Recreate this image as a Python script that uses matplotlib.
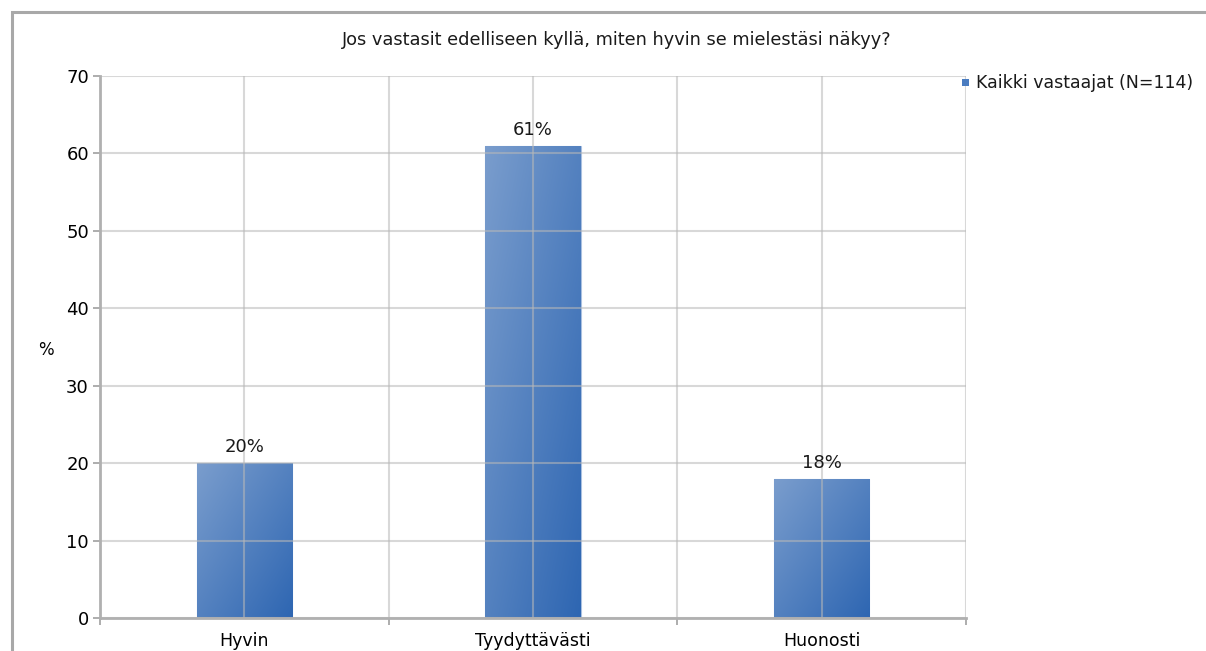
import numpy as np
import matplotlib
matplotlib.use('Agg')
import matplotlib.pyplot as plt
from matplotlib.patches import Rectangle
from matplotlib.colors import LinearSegmentedColormap

categories = ['Hyvin', 'Tyydyttävästi', 'Huonosti']
values = [20, 61, 18]
labels = ['20%', '61%', '18%']
series_name = 'Kaikki vastaajat (N=114)'
title = 'Jos vastasit edelliseen kyllä, miten hyvin se mielestäsi näkyy?'

plt.rcParams['font.family'] = ['DejaVu Sans']

fig = plt.figure(figsize=(12.06, 6.51), dpi=100)
ax = fig.add_axes([100 / 1206, 33 / 651, 866 / 1206, 542 / 651])

# outer chart frame (top and left edges visible)
fig.patches.append(Rectangle((12 / 1206, -0.1), 1.2, 1 - 12 / 651 + 0.1,
                             transform=fig.transFigure, fill=False,
                             edgecolor='#a8a8a8', linewidth=2.2, zorder=0))

x = np.arange(len(categories))
width = 0.33
bars = ax.bar(x, values, width, color='#4f7fc0', zorder=2)

# diagonal gradient fill for each bar: light top-left, dark bottom-right
cmap = LinearSegmentedColormap.from_list('barfill', ['#7a9dcd', '#2e66b2'])
gy, gx = np.mgrid[0:1:100j, 0:1:100j]
grad = (gx + gy) / 2
for b in bars:
    bx, by = b.get_x(), b.get_y()
    bw, bh = b.get_width(), b.get_height()
    im = ax.imshow(grad, cmap=cmap, extent=[bx, bx + bw, by, by + bh],
                   origin='upper', aspect='auto', zorder=2)
    im.set_clip_path(b)
    b.set_facecolor('none')
    b.set_edgecolor('#a9c0e0')
    b.set_linewidth(0.8)

for xi, v, lab in zip(x, values, labels):
    ax.annotate(lab, (xi, v), xytext=(0, 5), textcoords='offset points',
                ha='center', va='bottom', fontsize=13, color='#1a1a1a', zorder=4)

ax.set_xlim(-0.5, 2.5)
ax.set_ylim(0, 70)
ax.set_yticks(range(0, 71, 10))

# boundary ticks + gridlines, labels at category centres
ax.set_xticks([-0.5, 0.5, 1.5, 2.5])
ax.set_xticklabels([])
ax.set_xticks(x, minor=True)
ax.set_xticklabels(categories, minor=True)
ax.tick_params(axis='x', which='major', length=5, color='#a0a0a0', width=1.2)
ax.tick_params(axis='x', which='minor', length=0, pad=10, labelsize=12.5)
ax.tick_params(axis='y', length=5, color='#a0a0a0', width=1.2, labelsize=13, pad=3)

ax.grid(True, which='both', color='#b8b8b8', linewidth=1.5, zorder=3, alpha=0.55)
ax.set_axisbelow(False)
for side in ['top', 'right']:
    ax.spines[side].set_visible(False)
for side in ['left', 'bottom']:
    ax.spines[side].set_color('#b0b0b0')
    ax.spines[side].set_linewidth(2)
    ax.spines[side].set_zorder(5)

ax.set_ylabel('%', rotation=0, fontsize=12, va='center')
ax.yaxis.set_label_coords(-0.063, 0.494)

fig.text(617 / 1206, 1 - 40 / 651, title, ha='center', va='center', fontsize=12.8,
         color='#1a1a1a')

# legend entry
fig.patches.append(Rectangle((962 / 1206, 1 - 86 / 651), 7 / 1206, 7 / 651,
                             transform=fig.transFigure, facecolor='#4a7cc0',
                             edgecolor='none'))
fig.text(976 / 1206, 1 - 83 / 651, series_name, ha='left', va='center',
         fontsize=12.5, color='#1a1a1a')

fig.savefig('out.png', dpi=100)
